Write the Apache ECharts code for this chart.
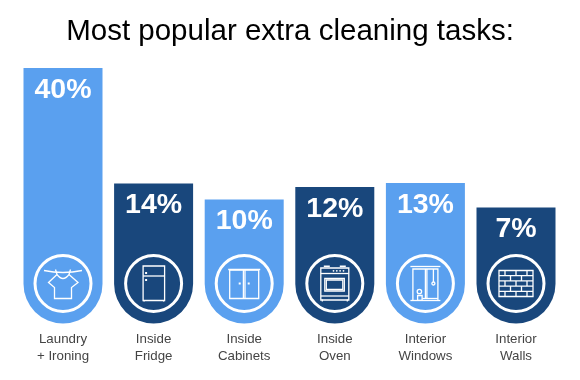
<!DOCTYPE html>
<html>
<head>
<meta charset="utf-8">
<style>html,body{margin:0;padding:0;background:#fff}#c{width:580px;height:380px}</style>
<script src="https://cdn.jsdelivr.net/npm/echarts@6/dist/echarts.min.js"></script>
</head>
<body>
<div id="c"></div>
<script>
const titleText = 'Most popular extra cleaning tasks:';
const categories = ['Laundry\n+ Ironing', 'Inside\nFridge', 'Inside\nCabinets', 'Inside\nOven', 'Interior\nWindows', 'Interior\nWalls'];
// The printed percentages.
const percentages = [40, 14, 10, 12, 13, 7];
// The source bars are not proportional to their percentages, so the drawn lengths are read separately.
const barLengths = [255.5, 140, 124, 136.5, 140.5, 116];
const barColors = ['#5aa0ef', '#19477c', '#5aa0ef', '#19477c', '#5aa0ef', '#19477c'];
const iconNames = ['shirt', 'fridge', 'cabinet', 'oven', 'window', 'bricks'];

const stroke = { stroke: '#fff', lineWidth: 1.3, fill: null };
const solid = { fill: '#fff' };
const L = (x1, y1, x2, y2) => ({ type: 'line', shape: { x1, y1, x2, y2 }, style: stroke });
const R = (x, y, width, height) => ({ type: 'rect', shape: { x, y, width, height }, style: stroke });
const C = (cx, cy, r) => ({ type: 'circle', shape: { cx, cy, r }, style: stroke });
const D = (cx, cy, r) => ({ type: 'circle', shape: { cx, cy, r }, style: solid });
const B = (x, y, width, height) => ({ type: 'rect', shape: { x, y, width, height }, style: solid });
const P = (points) => ({ type: 'polyline', shape: { points }, style: stroke });
const Q = (x1, y1, cpx1, cpy1, x2, y2) => ({ type: 'bezierCurve', shape: { x1, y1, x2, y2, cpx1, cpy1 }, style: stroke });

const icons = {
  shirt: () => [
    Q(-19, -13, 0, -9, 19, -13),
    L(-7.5, -14, -6, -9), L(7.5, -14, 6, -9),
    P([[-6, -9], [-14.5, -1], [-8.5, 4], [-8.5, 15], [8.5, 15], [8.5, 4], [15, -1], [6, -9]]),
    Q(-6, -9, 0, -1, 6, -9)
  ],
  fridge: () => [
    R(-10.5, -17.5, 21.5, 34.5), L(-10.5, -7.5, 11, -7.5),
    B(-8.5, -11.5, 2, 2), B(-8.5, -4.5, 2, 2),
    L(-9.5, 17, -9.5, 18), L(10, 17, 10, 18)
  ],
  cabinet: () => [
    L(-16, -14, 16, -14), R(-14.5, -13.5, 29, 28.5),
    L(-0.8, -13.5, -0.8, 15), L(0.8, -13.5, 0.8, 15),
    B(-5.5, -1, 2, 2), B(3.5, -1, 2, 2)
  ],
  oven: () => [
    B(-11, -18, 6, 1.5), B(5, -18, 6, 1.5),
    R(-14, -15.5, 28, 32), L(-14, -10, 14, -10), L(-14, 12.5, 14, 12.5),
    R(-10, -5, 19.5, 12.5), R(-8.5, -3.5, 16.5, 9.5),
    D(-1.3, -12.7, 0.9), D(2, -12.7, 0.9), D(5.3, -12.7, 0.9), D(8.7, -12.7, 0.9),
    L(-12.5, 16, -12.5, 18), L(12.5, 16, 12.5, 18)
  ],
  window: () => [
    L(-15, -17, 15, -17), L(-15, 17, 15, 17),
    P([[-12.5, 17], [-12.5, -14.5], [12.5, -14.5], [12.5, 17]]),
    L(0, -14.5, 0, 15), L(1.5, -14.5, 1.5, 15), L(-3, 15, 12.5, 15),
    L(8, -14.5, 8, -1.5), C(8, 0, 1.5),
    C(-6, 8, 2.2), R(-7.8, 12, 4.5, 4.8)
  ],
  bricks: () => {
    const out = [R(-17, -13, 34, 26)];
    const rows = [-7.8, -2.6, 2.6, 7.8];
    rows.forEach((y) => out.push(L(-17, y, 17, y)));
    const joints = [[-11, 0, 11], [-5.5, 5.5], [-11, 0, 11], [-5.5, 5.5], [-11, 0, 11]];
    joints.forEach((xs, i) => xs.forEach((x) => out.push(L(x, -13 + i * 5.2, x, -7.8 + i * 5.2))));
    return out;
  }
};

const chart = echarts.init(document.getElementById('c'), null, { renderer: 'canvas' });
chart.setOption({
  animation: false,
  title: {
    text: titleText, left: 'center', top: 12,
    textStyle: { fontFamily: 'Liberation Sans', fontSize: 29.5, fontWeight: 'normal', color: '#000' }
  },
  grid: { left: 17.7, right: 18.7, top: 68, bottom: 56.5 },
  xAxis: {
    type: 'category', data: categories,
    axisLine: { show: false }, axisTick: { show: false },
    axisLabel: { margin: 8, interval: 0, fontFamily: 'Liberation Sans', fontSize: 13.3, lineHeight: 16.5, color: '#444' }
  },
  yAxis: { type: 'value', min: 0, max: 255.5, show: false },
  series: [
    {
      type: 'bar', barWidth: 79,
      data: barLengths.map((v, i) => ({ value: v, itemStyle: { color: barColors[i] } })),
      itemStyle: { borderRadius: [0, 0, 39.5, 39.5] },
      label: {
        show: true, position: 'insideTop', distance: 7.5,
        formatter: (p) => percentages[p.dataIndex] + '%',
        fontFamily: 'Liberation Sans', fontSize: 28.5, fontWeight: 'bold', color: '#fff'
      }
    },
    {
      type: 'custom', silent: true, z: 5,
      data: categories.map((_, i) => [i, 0]),
      renderItem: (params, api) => {
        const pt = api.coord([api.value(0), api.value(1)]);
        const name = iconNames[params.dataIndex];
        return {
          type: 'group', x: pt[0], y: pt[1] - 40,
          children: [
            { type: 'circle', shape: { cx: 0, cy: 0, r: 28 }, style: { stroke: '#fff', lineWidth: 3, fill: null } }
          ].concat(icons[name]())
        };
      }
    }
  ]
});
</script>
</body>
</html>
